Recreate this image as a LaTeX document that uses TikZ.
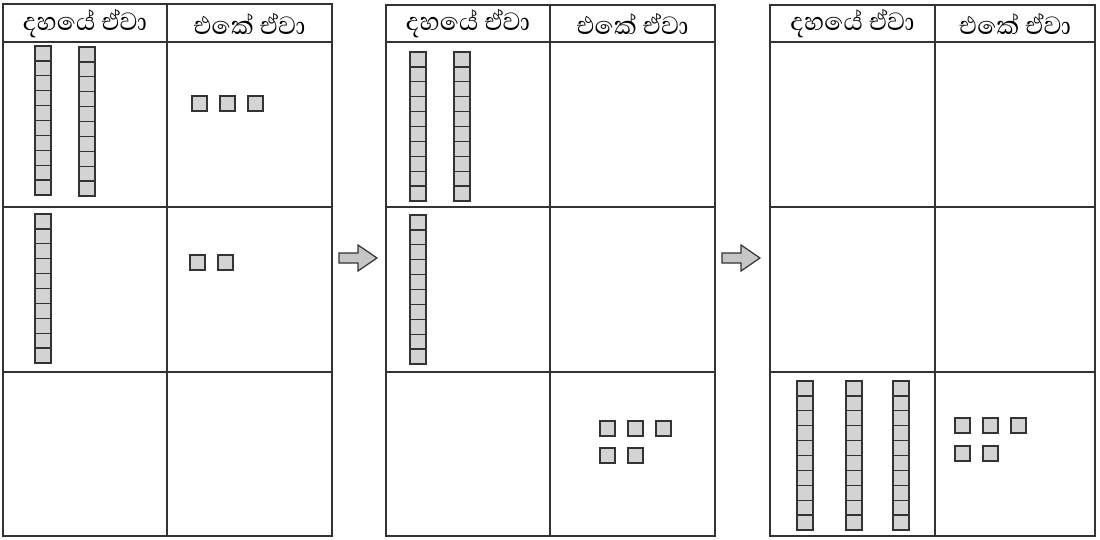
\documentclass[tikz,border=0pt]{standalone}
\usepackage{fontspec}
\newfontfamily\sinhalafont[Script=Sinhala]{Abhaya Libre}
\definecolor{linec}{HTML}{333333}
\definecolor{cellc}{HTML}{D3D3D3}
\definecolor{arrowc}{HTML}{C6C6C6}
\tikzset{
  tabline/.style={draw=linec, line width=1.8pt},
  rodbox/.style={draw=linec, fill=cellc, line width=1.6pt},
  rodline/.style={draw=linec, line width=1.3pt},
  unitbox/.style={draw=linec, fill=cellc, line width=1.6pt},
  headtext/.style={font=\sinhalafont\fontsize{32}{36}\selectfont, text=black, inner sep=0pt, anchor=center},
  arrowshape/.style={draw=linec, fill=arrowc, line width=1.2pt, line join=miter},
}
\newcommand\tenrod[2]{%
  \draw[rodbox] (#1,#2) rectangle ++(16,149);
  \foreach \k in {1,...,9} \draw[rodline] ({#1-1},{#2+\k*14.9}) -- ++(18,0);
}
\newcommand\unitsq[2]{\draw[unitbox] (#1,#2) rectangle ++(15,15);}
\newcommand\placetable[5]{% left mid right top name
  \draw[tabline] (#1,#4) rectangle (#3,536);
  \draw[tabline] (#2,#4) -- (#2,536);
  \draw[tabline] (#1,42) -- (#3,42);
  \draw[tabline] (#1,207) -- (#3,207);
  \draw[tabline] (#1,372) -- (#3,372);
  \node[headtext] (#5a) at ({(#1+#2)/2},24) {දහයේ ඒවා};
  \node[headtext] (#5b) at ({(#2+#3)/2},24) {එකේ ඒවා};
}
\newcommand\blockarrow[2]{% tail x, name
  \coordinate (#2) at (#1,258);
  \draw[arrowshape] (#2) ++(0,-5) -- ++(19,0) -- ++(0,-8) -- ++(19,13) -- ++(-19,13) -- ++(0,-8) -- ++(-19,0) -- cycle;
}
\begin{document}
\begin{tikzpicture}[x=1pt,y=-1pt]
\useasboundingbox (0,0) rectangle (1100,540);
\fill[white] (0,0) rectangle (1100,540);
% tables
\placetable{3}{167}{332}{4}{ta}
\placetable{386}{550}{715}{5}{tb}
\placetable{770}{935}{1095}{5}{tc}
% table 1
\tenrod{35}{46}
\tenrod{79}{47}
\tenrod{35}{214}
\unitsq{192}{96}\unitsq{220}{96}\unitsq{248}{96}
\unitsq{190}{255}\unitsq{218}{255}
% table 2
\tenrod{410}{52}
\tenrod{454}{52}
\tenrod{410}{215}
\unitsq{600}{421}\unitsq{628}{421}\unitsq{656}{421}
\unitsq{600}{448}\unitsq{628}{448}
% table 3
\tenrod{797}{381}
\tenrod{846}{381}
\tenrod{893}{381}
\unitsq{955}{418}\unitsq{983}{418}\unitsq{1011}{418}
\unitsq{955}{446}\unitsq{983}{446}
% arrows
\blockarrow{339}{arr1}
\blockarrow{722}{arr2}
\end{tikzpicture}
\end{document}
